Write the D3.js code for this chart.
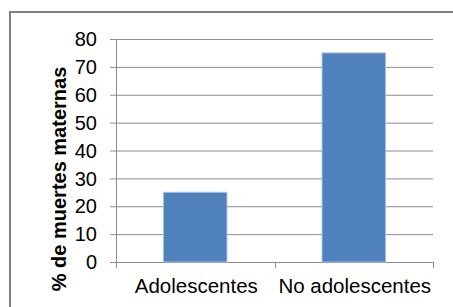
<!DOCTYPE html>
<html>
<head>
<meta charset="utf-8">
<script src="https://cdn.jsdelivr.net/npm/d3@7"></script>
<style>
  body{margin:0;background:#fff;}
  text{font-family:"Liberation Sans",Arial,sans-serif;fill:#000;}
</style>
</head>
<body>
<svg width="453" height="307"></svg>
<script>
const categories=['Adolescentes','No adolescentes'];
const values=[25,75];
const yTicks=[0,10,20,30,40,50,60,70,80];

const svg=d3.select('svg');
const plot={left:116,right:433,top:39,bottom:262};

// outer frame, cut by the window on the right and bottom
svg.append('rect')
   .attr('x',10).attr('y',12)
   .attr('width',460).attr('height',310)
   .attr('fill','none')
   .attr('stroke','#808080')
   .attr('stroke-width',2);

const x=d3.scaleBand()
   .domain(categories)
   .range([plot.left,plot.right])
   .paddingInner(0.6)
   .paddingOuter(0.3);

const y=d3.scaleLinear()
   .domain([0,80])
   .range([plot.bottom,plot.top]);

// gridlines
svg.append('g')
   .selectAll('line')
   .data(yTicks)
   .enter()
   .append('line')
   .attr('x1',plot.left-6)
   .attr('x2',plot.right)
   .attr('y1',d=>y(d)+0.5)
   .attr('y2',d=>y(d)+0.5)
   .attr('stroke','#8c8c8c');

// y axis line
svg.append('line')
   .attr('x1',plot.left+0.5).attr('x2',plot.left+0.5)
   .attr('y1',plot.top).attr('y2',plot.bottom+6)
   .attr('stroke','#8c8c8c');

// x axis category separators
const seps=[plot.left,(plot.left+plot.right)/2,plot.right];
svg.append('g')
   .selectAll('line')
   .data(seps)
   .enter()
   .append('line')
   .attr('x1',d=>Math.round(d)+0.5)
   .attr('x2',d=>Math.round(d)+0.5)
   .attr('y1',plot.bottom)
   .attr('y2',plot.bottom+6)
   .attr('stroke','#8c8c8c');

// bars
svg.append('g')
   .selectAll('rect')
   .data(values)
   .enter()
   .append('rect')
   .attr('x',(d,i)=>x(categories[i]))
   .attr('y',d=>y(d))
   .attr('width',x.bandwidth())
   .attr('height',d=>y(0)-y(d))
   .attr('fill','#4f81bd')
   .attr('stroke','#a3bee0')
   .attr('stroke-width',1);

// y tick labels
svg.append('g')
   .selectAll('text')
   .data(yTicks)
   .enter()
   .append('text')
   .attr('x',97)
   .attr('y',d=>y(d))
   .attr('dy','0.36em')
   .attr('text-anchor','end')
   .style('font-size','20px')
   .text(d=>d);

// x labels
svg.append('g')
   .selectAll('text')
   .data(categories)
   .enter()
   .append('text')
   .attr('x',d=>x(d)+x.bandwidth()/2+1)
   .attr('y',293)
   .attr('text-anchor','middle')
   .style('font-size','20.5px')
   .text(d=>d);

// y title
svg.append('text')
   .attr('transform','translate(66,179) rotate(-90)')
   .attr('text-anchor','middle')
   .style('font-size','20px')
   .style('font-weight','bold')
   .text('% de muertes maternas');
</script>
</body>
</html>
